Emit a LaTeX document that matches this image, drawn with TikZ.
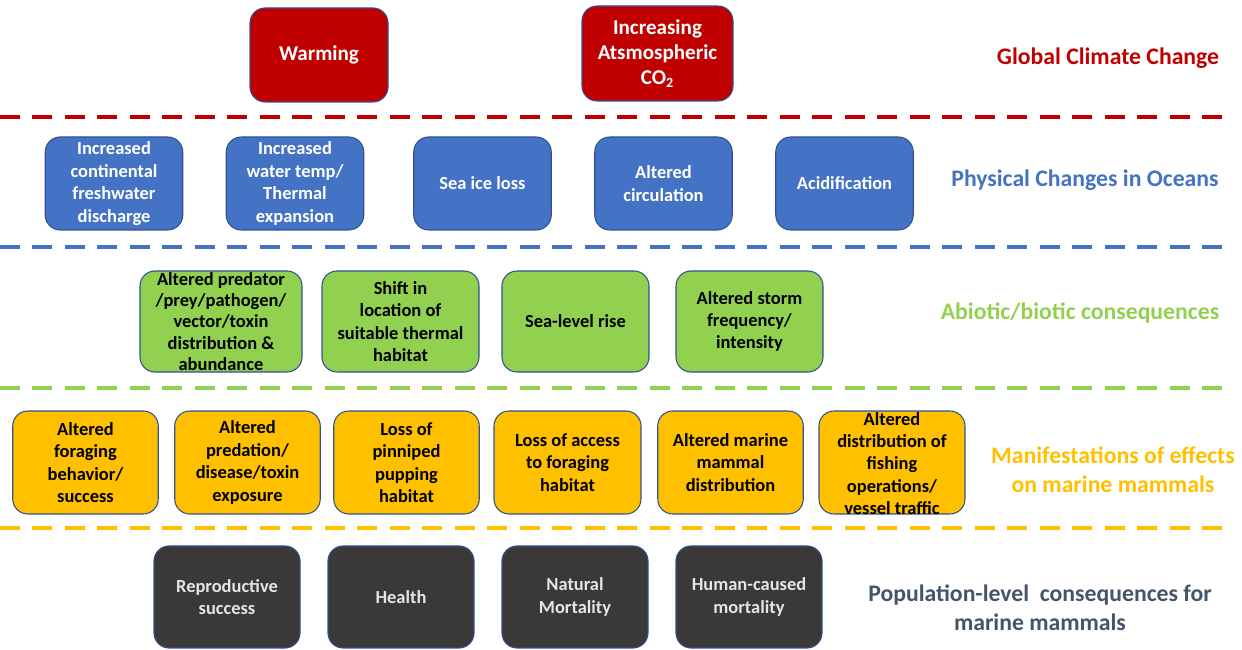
\documentclass[tikz,border=0pt]{standalone}
\usepackage{fontspec}
\setmainfont{Carlito}
\definecolor{climred}{HTML}{C00000}
\definecolor{oceanblue}{HTML}{4472C4}
\definecolor{bioticgreen}{HTML}{92D050}
\definecolor{effectorange}{HTML}{FFC000}
\definecolor{popdark}{HTML}{3B3838}
\definecolor{poplabel}{HTML}{44546A}
\definecolor{boxedge}{HTML}{2F528F}

\begin{document}
\begin{tikzpicture}[
            box/.style={rectangle, rounded corners=0.3cm, draw=boxedge, line width=0.6pt,
                align=center, inner sep=1pt, font=\bfseries\fontsize{10.5}{12.75}\selectfont},
            boxtext/.style={align=center, inner sep=0pt, font=\bfseries\fontsize{10.5}{12.75}\selectfont},
            redbox/.style={box, fill=climred, text=white, minimum width=2.76cm, minimum height=1.88cm,
                font=\bfseries\fontsize{12}{14.2}\selectfont},
            bluebox/.style={box, fill=oceanblue, text=white, minimum width=2.75cm, minimum height=1.86cm},
            greenbox/.style={box, fill=bioticgreen, text=black, minimum height=2.02cm},
            orangebox/.style={box, fill=effectorange, text=black, minimum width=2.91cm, minimum height=2.06cm},
            darkbox/.style={box, fill=popdark, text=white!90!black, minimum width=2.92cm, minimum height=2.04cm},
            divider/.style={line width=2.3pt, dash pattern=on 0.4cm off 0.25cm},
            layer/.style={align=center, font=\bfseries\fontsize{13.5}{16.5}\selectfont}
        ]
            \useasboundingbox (0,0) rectangle (24.84,-13);

            % global climate change
            \node[redbox] (warm) at (6.38,-1.10) {Warming};
            \node[redbox, minimum width=3.02cm, minimum height=1.90cm] (co2) at (13.15,-1.07)
                {Increasing\\Atsmospheric\\CO\textsubscript{2}};
            \node[layer, text=climred] (lclim) at (22.16,-1.17) {Global Climate Change};
            \coordinate (r0) at (0,-2.34);
            \coordinate (r1) at (24.6,-2.34);
            \draw[divider, climred] (r0) -- (r1);

            % physical changes
            \node[bluebox] (fresh) at (2.28,-3.67) {Increased\\continental\\freshwater\\discharge};
            \node[bluebox] (temp) at (5.90,-3.67) {Increased\\water temp/\\Thermal\\expansion};
            \node[bluebox] (ice) at (9.65,-3.67) {Sea ice loss};
            \node[bluebox] (circ) at (13.27,-3.67) {Altered\\circulation};
            \node[bluebox] (acid) at (16.89,-3.67) {Acidification};
            \node[layer, text=oceanblue] (locean) at (21.70,-3.60) {Physical Changes in Oceans};
            \coordinate (b0) at (0,-4.94);
            \coordinate (b1) at (24.6,-4.94);
            \draw[divider, oceanblue] (b0) -- (b1);

            % abiotic/biotic consequences
            \node[greenbox, minimum width=3.24cm] (prey) at (4.42,-6.43) {};
            \node[boxtext, font=\bfseries\fontsize{10.5}{12.2}\selectfont] (preytext) at (prey)
                {Altered predator\\/prey/pathogen/\\vector/toxin\\distribution \&\\abundance};
            \node[greenbox, minimum width=3.14cm] (shift) at (8.01,-6.43) {Shift in\\location of\\suitable thermal\\habitat};
            \node[greenbox, minimum width=2.94cm] (sea) at (11.51,-6.43) {Sea-level rise};
            \node[greenbox, minimum width=2.94cm] (storm) at (14.99,-6.43) {Altered storm\\frequency/\\intensity};
            \node[layer, text=bioticgreen] (lbio) at (21.60,-6.26) {Abiotic/biotic consequences};
            \coordinate (g0) at (0,-7.76);
            \coordinate (g1) at (24.6,-7.76);
            \draw[divider, bioticgreen] (g0) -- (g1);

            % manifestations of effects
            \node[orangebox] (forage) at (1.71,-9.25) {Altered\\foraging\\behavior/\\success};
            \node[orangebox] (pred) at (4.95,-9.25) {Altered\\predation/\\disease/toxin\\exposure};
            \node[orangebox] (pup) at (8.13,-9.25) {Loss of\\pinniped\\pupping\\habitat};
            \node[orangebox, minimum width=2.94cm] (access) at (11.35,-9.25) {Loss of access\\to foraging\\habitat};
            \node[orangebox] (mdist) at (14.61,-9.25) {Altered marine\\mammal\\distribution};
            \node[orangebox, minimum width=2.92cm] (fish) at (17.84,-9.25) {};
            \node[boxtext] (fishtext) at ([yshift=-0.02cm]fish.center)
                {Altered\\distribution of\\fishing\\operations/\\vessel traffic};
            \node[layer, text=effectorange] (leffect) at (22.26,-9.40) {Manifestations of effects\\on marine mammals};
            \coordinate (o0) at (0,-10.56);
            \coordinate (o1) at (24.6,-10.56);
            \draw[divider, effectorange] (o0) -- (o1);

            % population-level consequences
            \node[darkbox] (repro) at (4.54,-11.94) {Reproductive\\success};
            \node[darkbox] (health) at (8.02,-11.94) {Health};
            \node[darkbox] (natural) at (11.50,-11.94) {Natural\\Mortality};
            \node[darkbox] (human) at (14.98,-11.94) {Human-caused\\mortality};
            \node[layer, text=poplabel] (lpop) at (20.80,-12.16) {Population-level\ \ consequences for\\marine mammals};
        \end{tikzpicture}
\end{document}
